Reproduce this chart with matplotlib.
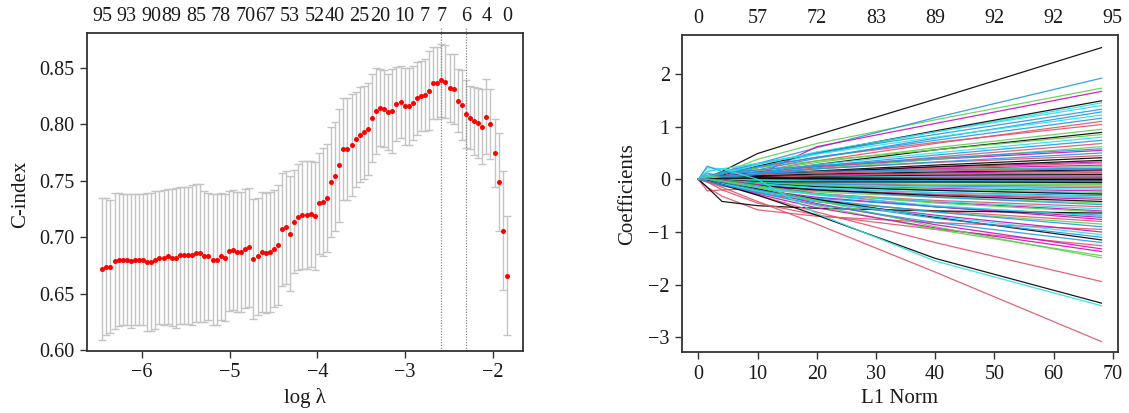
import numpy as np
import matplotlib
matplotlib.use("Agg")
import matplotlib.pyplot as plt

plt.rcParams['font.family'] = ['Liberation Serif', 'DejaVu Serif']
plt.rcParams['axes.unicode_minus'] = True

# ---------------- cross-validation curve (left panel) ----------------
# log(lambda) grid of the fitted path (100 values, log-spaced lambdas)
log_lambda = np.linspace(-6.456, -1.840, 100)

cindex = [
    0.672, 0.674, 0.674, 0.679, 0.680, 0.680, 0.680, 0.679, 0.680, 0.680,
    0.680, 0.678, 0.678, 0.680, 0.682, 0.682, 0.683, 0.682, 0.682, 0.684,
    0.684, 0.684, 0.684, 0.686, 0.686, 0.683, 0.683, 0.680, 0.680, 0.683,
    0.682, 0.688, 0.689, 0.687, 0.687, 0.690, 0.691, 0.681, 0.683, 0.687,
    0.686, 0.687, 0.690, 0.693, 0.707, 0.709, 0.703, 0.714, 0.718, 0.720,
    0.720, 0.721, 0.719, 0.730, 0.731, 0.735, 0.749, 0.754, 0.764, 0.778,
    0.778, 0.782, 0.787, 0.791, 0.793, 0.796, 0.806, 0.812, 0.815, 0.814,
    0.811, 0.812, 0.818, 0.820, 0.816, 0.816, 0.819, 0.823, 0.825, 0.826,
    0.830, 0.837, 0.837, 0.839, 0.838, 0.832, 0.831, 0.821, 0.817, 0.809,
    0.806, 0.803, 0.801, 0.798, 0.807, 0.800, 0.775, 0.749, 0.706, 0.666,
]

cindex_sd = [
    0.063, 0.061, 0.059, 0.060, 0.059, 0.058, 0.058, 0.059, 0.058, 0.058,
    0.058, 0.061, 0.061, 0.061, 0.059, 0.060, 0.060, 0.061, 0.062, 0.061,
    0.061, 0.061, 0.062, 0.061, 0.061, 0.058, 0.056, 0.058, 0.058, 0.056,
    0.056, 0.053, 0.053, 0.053, 0.053, 0.053, 0.053, 0.053, 0.052, 0.053,
    0.053, 0.053, 0.052, 0.053, 0.050, 0.050, 0.051, 0.046, 0.047, 0.048,
    0.048, 0.047, 0.048, 0.045, 0.048, 0.048, 0.049, 0.048, 0.050, 0.045,
    0.045, 0.045, 0.042, 0.042, 0.041, 0.041, 0.039, 0.038, 0.034, 0.034,
    0.034, 0.037, 0.033, 0.032, 0.034, 0.034, 0.033, 0.032, 0.031, 0.032,
    0.035, 0.032, 0.032, 0.032, 0.032, 0.030, 0.031, 0.028, 0.031, 0.030,
    0.028, 0.030, 0.031, 0.033, 0.033, 0.031, 0.030, 0.043, 0.053, 0.053,
]

# number of non-zero coefficients shown along the top axis
nz_index = [0, 6, 12, 17, 23, 29, 35, 40, 46, 52, 57, 63, 68, 74, 79, 83, 89, 94, 99]
nz_labels = ['95', '93', '90', '89', '85', '78', '70', '67', '53', '52',
             '40', '25', '20', '10', '7', '7', '6', '4', '0']

lambda_min_index = 83
lambda_1se_index = 89

# ---------------- coefficient paths (right panel) ----------------
l1_knots = [0, 1.5, 4, 10, 20, 40, 68.1]

black_paths = [
    [0, 0.03, 0.15, 0.49, 0.84, 1.52, 2.50],
    [0, 0.02, 0.08, 0.25, 0.50, 0.92, 1.49],
    [0, 0.01, 0.05, 0.12, 0.28, 0.56, 0.89],
    [0, 0.03, 0.06, 0.10, 0.16, 0.27, 0.41],
    [0, -0.02, 0.02, 0.08, 0.14, 0.24, 0.36],
    [0, 0.01, 0.04, 0.07, 0.10, 0.14, 0.18],
    [0, 0.00, 0.02, 0.05, 0.06, 0.08, 0.09],
    [0, 0.00, 0.00, 0.03, 0.03, 0.02, 0.02],
    [0, 0.00, 0.00, 0.00, 0.01, 0.00, 0.00],
    [0, 0.00, 0.02, 0.02, 0.01, 0.00, -0.01],
    [0, 0.00, -0.02, -0.04, -0.05, -0.05, -0.06],
    [0, 0.00, -0.03, -0.08, -0.14, -0.21, -0.28],
    [0, -0.01, -0.05, -0.12, -0.20, -0.31, -0.42],
    [0, -0.15, -0.42, -0.50, -0.55, -0.60, -0.64],
    [0, -0.02, -0.06, -0.18, -0.38, -0.72, -1.15],
    [0, -0.02, -0.10, -0.30, -0.68, -1.50, -2.35],
]
red_paths = [
    [0, 0.00, 0.04, 0.15, 0.35, 0.68, 1.10],
    [0, 0.01, 0.06, 0.22, 0.42, 0.70, 1.04],
    [0, 0.00, 0.02, 0.10, 0.22, 0.42, 0.68],
    [0, 0.02, 0.05, 0.12, 0.20, 0.32, 0.45],
    [0, 0.00, 0.01, 0.05, 0.12, 0.21, 0.31],
    [0, 0.03, 0.06, 0.09, 0.12, 0.16, 0.20],
    [0, -0.02, -0.01, 0.03, 0.07, 0.10, 0.13],
    [0, -0.05, -0.03, 0.00, 0.01, 0.01, 0.01],
    [0, 0.00, -0.02, -0.05, -0.08, -0.11, -0.13],
    [0, -0.22, -0.20, -0.18, -0.22, -0.28, -0.35],
    [0, -0.04, -0.10, -0.18, -0.28, -0.40, -0.52],
    [0, -0.03, -0.12, -0.26, -0.42, -0.60, -0.80],
    [0, -0.15, -0.32, -0.58, -0.70, -0.82, -0.95],
    [0, -0.05, -0.20, -0.45, -0.68, -0.95, -1.26],
    [0, -0.02, -0.10, -0.30, -0.62, -1.20, -1.94],
    [0, -0.05, -0.15, -0.42, -0.85, -1.76, -3.08],
]
green_paths = [
    [0, 0.02, 0.12, 0.38, 0.68, 1.13, 1.73],
    [0, 0.00, 0.03, 0.15, 0.32, 0.60, 0.95],
    [0, 0.05, 0.12, 0.22, 0.35, 0.56, 0.85],
    [0, 0.00, 0.02, 0.08, 0.20, 0.38, 0.62],
    [0, 0.02, 0.04, 0.08, 0.12, 0.18, 0.24],
    [0, 0.00, 0.00, 0.02, 0.05, 0.08, 0.11],
    [0, 0.06, 0.05, 0.03, 0.03, 0.03, 0.04],
    [0, 0.00, 0.00, -0.02, -0.01, 0.00, 0.00],
    [0, 0.00, 0.01, 0.00, -0.02, -0.04, -0.05],
    [0, -0.02, -0.04, -0.06, -0.07, -0.09, -0.10],
    [0, 0.00, -0.02, -0.06, -0.12, -0.19, -0.25],
    [0, -0.03, -0.08, -0.16, -0.24, -0.34, -0.45],
    [0, 0.00, -0.03, -0.12, -0.28, -0.45, -0.62],
    [0, -0.02, -0.08, -0.22, -0.40, -0.62, -0.85],
    [0, -0.03, -0.10, -0.25, -0.50, -0.95, -1.45],
    [0, 0.00, -0.04, -0.16, -0.40, -0.90, -1.49],
]
blue_paths = [
    [0, 0.02, 0.10, 0.30, 0.60, 1.17, 1.92],
    [0, 0.04, 0.14, 0.30, 0.50, 0.85, 1.33],
    [0, 0.00, 0.05, 0.18, 0.40, 0.78, 1.28],
    [0, 0.02, 0.10, 0.24, 0.42, 0.74, 1.16],
    [0, 0.00, 0.04, 0.12, 0.25, 0.46, 0.74],
    [0, 0.08, 0.12, 0.18, 0.26, 0.40, 0.58],
    [0, 0.00, 0.03, 0.10, 0.20, 0.33, 0.50],
    [0, 0.25, 0.15, 0.12, 0.15, 0.18, 0.21],
    [0, 0.12, 0.05, 0.00, -0.02, -0.03, -0.04],
    [0, 0.00, -0.02, -0.05, -0.09, -0.13, -0.16],
    [0, -0.02, -0.06, -0.12, -0.18, -0.25, -0.31],
    [0, 0.00, -0.03, -0.10, -0.20, -0.34, -0.48],
    [0, -0.04, -0.12, -0.24, -0.36, -0.52, -0.68],
    [0, -0.02, -0.06, -0.18, -0.38, -0.62, -0.90],
    [0, 0.00, -0.05, -0.20, -0.42, -0.74, -1.10],
    [0, -0.03, -0.10, -0.25, -0.48, -0.82, -1.20],
]
cyan_paths = [
    [0, 0.00, 0.06, 0.22, 0.48, 0.90, 1.45],
    [0, 0.03, 0.10, 0.28, 0.52, 0.90, 1.40],
    [0, 0.15, 0.20, 0.30, 0.48, 0.80, 1.22],
    [0, 0.00, 0.03, 0.12, 0.28, 0.50, 0.80],
    [0, 0.22, 0.20, 0.10, 0.08, 0.10, 0.12],
    [0, 0.00, 0.03, 0.04, 0.05, 0.06, 0.07],
    [0, -0.03, 0.00, 0.02, 0.03, 0.03, 0.03],
    [0, 0.00, 0.00, -0.01, -0.02, -0.03, -0.03],
    [0, 0.05, 0.02, -0.02, -0.04, -0.06, -0.08],
    [0, 0.00, -0.03, -0.07, -0.11, -0.15, -0.19],
    [0, -0.02, -0.05, -0.10, -0.15, -0.21, -0.27],
    [0, 0.00, -0.02, -0.08, -0.16, -0.25, -0.34],
    [0, -0.03, -0.08, -0.18, -0.28, -0.42, -0.56],
    [0, 0.00, -0.04, -0.14, -0.30, -0.50, -0.70],
    [0, -0.02, -0.08, -0.22, -0.42, -0.70, -1.05],
    [0, 0.15, 0.20, 0.00, -0.65, -1.55, -2.40],
]
magenta_paths = [
    [0, 0.00, 0.00, 0.08, 0.62, 1.06, 1.67],
    [0, 0.02, 0.06, 0.14, 0.24, 0.38, 0.55],
    [0, 0.00, 0.02, 0.08, 0.14, 0.23, 0.33],
    [0, 0.04, 0.06, 0.10, 0.14, 0.20, 0.27],
    [0, 0.00, 0.02, 0.05, 0.08, 0.12, 0.16],
    [0, 0.00, -0.02, 0.00, 0.02, 0.04, 0.05],
    [0, 0.03, 0.04, 0.02, 0.00, -0.01, -0.02],
    [0, 0.00, -0.02, -0.06, -0.11, -0.17, -0.22],
    [0, -0.03, -0.07, -0.14, -0.20, -0.29, -0.38],
    [0, 0.00, -0.04, -0.14, -0.27, -0.43, -0.60],
    [0, -0.02, -0.08, -0.20, -0.34, -0.52, -0.72],
    [0, 0.00, -0.02, -0.10, -0.28, -0.52, -0.76],
    [0, -0.02, -0.08, -0.22, -0.42, -0.68, -1.00],
    [0, 0.00, -0.05, -0.20, -0.46, -0.86, -1.32],
    [0, -0.03, -0.10, -0.28, -0.54, -0.92, -1.37],
]

l1_ticks = [0, 10, 20, 30, 40, 50, 60, 70]
df_labels = ['0', '57', '72', '83', '89', '92', '92', '95']

# ---------------- figure ----------------
SPINE = '#333333'
FS = 14.5

fig = plt.figure(figsize=(11.29, 4.13), dpi=100)
ax1 = fig.add_axes([0.0773, 0.1508, 0.3857, 0.7692])
ax2 = fig.add_axes([0.6043, 0.1470, 0.3857, 0.7683])


def style_axes(ax):
    for s in ax.spines.values():
        s.set_color(SPINE)
        s.set_linewidth(1.3)
    ax.tick_params(axis='both', direction='out', length=5, width=1.0,
                   color=SPINE, labelsize=FS, pad=4, labelcolor='#1a1a1a')


# left panel: C-index with error bars
style_axes(ax1)
ax1.errorbar(log_lambda, cindex, yerr=cindex_sd, fmt='none',
             ecolor='#c4c4c4', elinewidth=1.0, capsize=3, capthick=1.0, zorder=1)
ax1.scatter(log_lambda, cindex, s=13, color='red', zorder=3, linewidths=0)
ax1.set_xlim(-6.627, -1.658)
ax1.set_ylim(0.5995, 0.881)
for idx in (lambda_min_index, lambda_1se_index):
    ax1.plot([log_lambda[idx]] * 2, [0.5995, 0.886], color='#8a8a8a', lw=0.9,
             ls=(0, (1, 1.2)), zorder=2, clip_on=False)
ax1.set_xticks([-6, -5, -4, -3, -2])
ax1.set_yticks([0.60, 0.65, 0.70, 0.75, 0.80, 0.85])
ax1.set_yticklabels(['0.60', '0.65', '0.70', '0.75', '0.80', '0.85'])

ax1t = ax1.twiny()
ax1t.set_xlim(ax1.get_xlim())
ax1t.set_xticks([log_lambda[i] for i in nz_index])
ax1t.set_xticklabels(nz_labels)
ax1t.tick_params(axis='x', length=0, labelsize=FS, pad=5, labelcolor='#1a1a1a')
for s in ax1t.spines.values():
    s.set_visible(False)

fig.text(0.2701, 0.036, 'log λ', ha='center', va='center', fontsize=15, color='#1a1a1a')
fig.text(0.018, 0.53, 'C-index', ha='center', va='center', rotation=90,
         fontsize=15, color='#1a1a1a')

# right panel: coefficient paths
style_axes(ax2)
palette = {
    'black': '#000000', 'red': '#DF536B', 'green': '#61D04F',
    'blue': '#2297E6', 'cyan': '#28E2E5', 'magenta': '#CD0BBC',
}
groups = [('black', black_paths), ('red', red_paths), ('green', green_paths),
          ('blue', blue_paths), ('cyan', cyan_paths), ('magenta', magenta_paths)]
n_rows = max(len(p) for _, p in groups)
for row in range(n_rows):
    for name, paths in groups:
        if row < len(paths):
            ax2.plot(l1_knots, paths[row], color=palette[name], lw=0.9,
                     alpha=0.9, solid_joinstyle='round')
ax2.set_xlim(-2.72, 70.84)
ax2.set_ylim(-3.283, 2.74)
ax2.set_xticks(l1_ticks)
ax2.set_yticks([-3, -2, -1, 0, 1, 2])

ax2t = ax2.twiny()
ax2t.set_xlim(ax2.get_xlim())
ax2t.set_xticks(l1_ticks)
ax2t.set_xticklabels(df_labels)
ax2t.tick_params(axis='x', length=0, labelsize=FS, pad=5, labelcolor='#1a1a1a')
for s in ax2t.spines.values():
    s.set_visible(False)

fig.text(0.7971, 0.036, 'L1 Norm', ha='center', va='center', fontsize=15, color='#1a1a1a')
fig.text(0.556, 0.53, 'Coefficients', ha='center', va='center', rotation=90,
         fontsize=15, color='#1a1a1a')

fig.savefig('out.png', dpi=100, facecolor='white')
